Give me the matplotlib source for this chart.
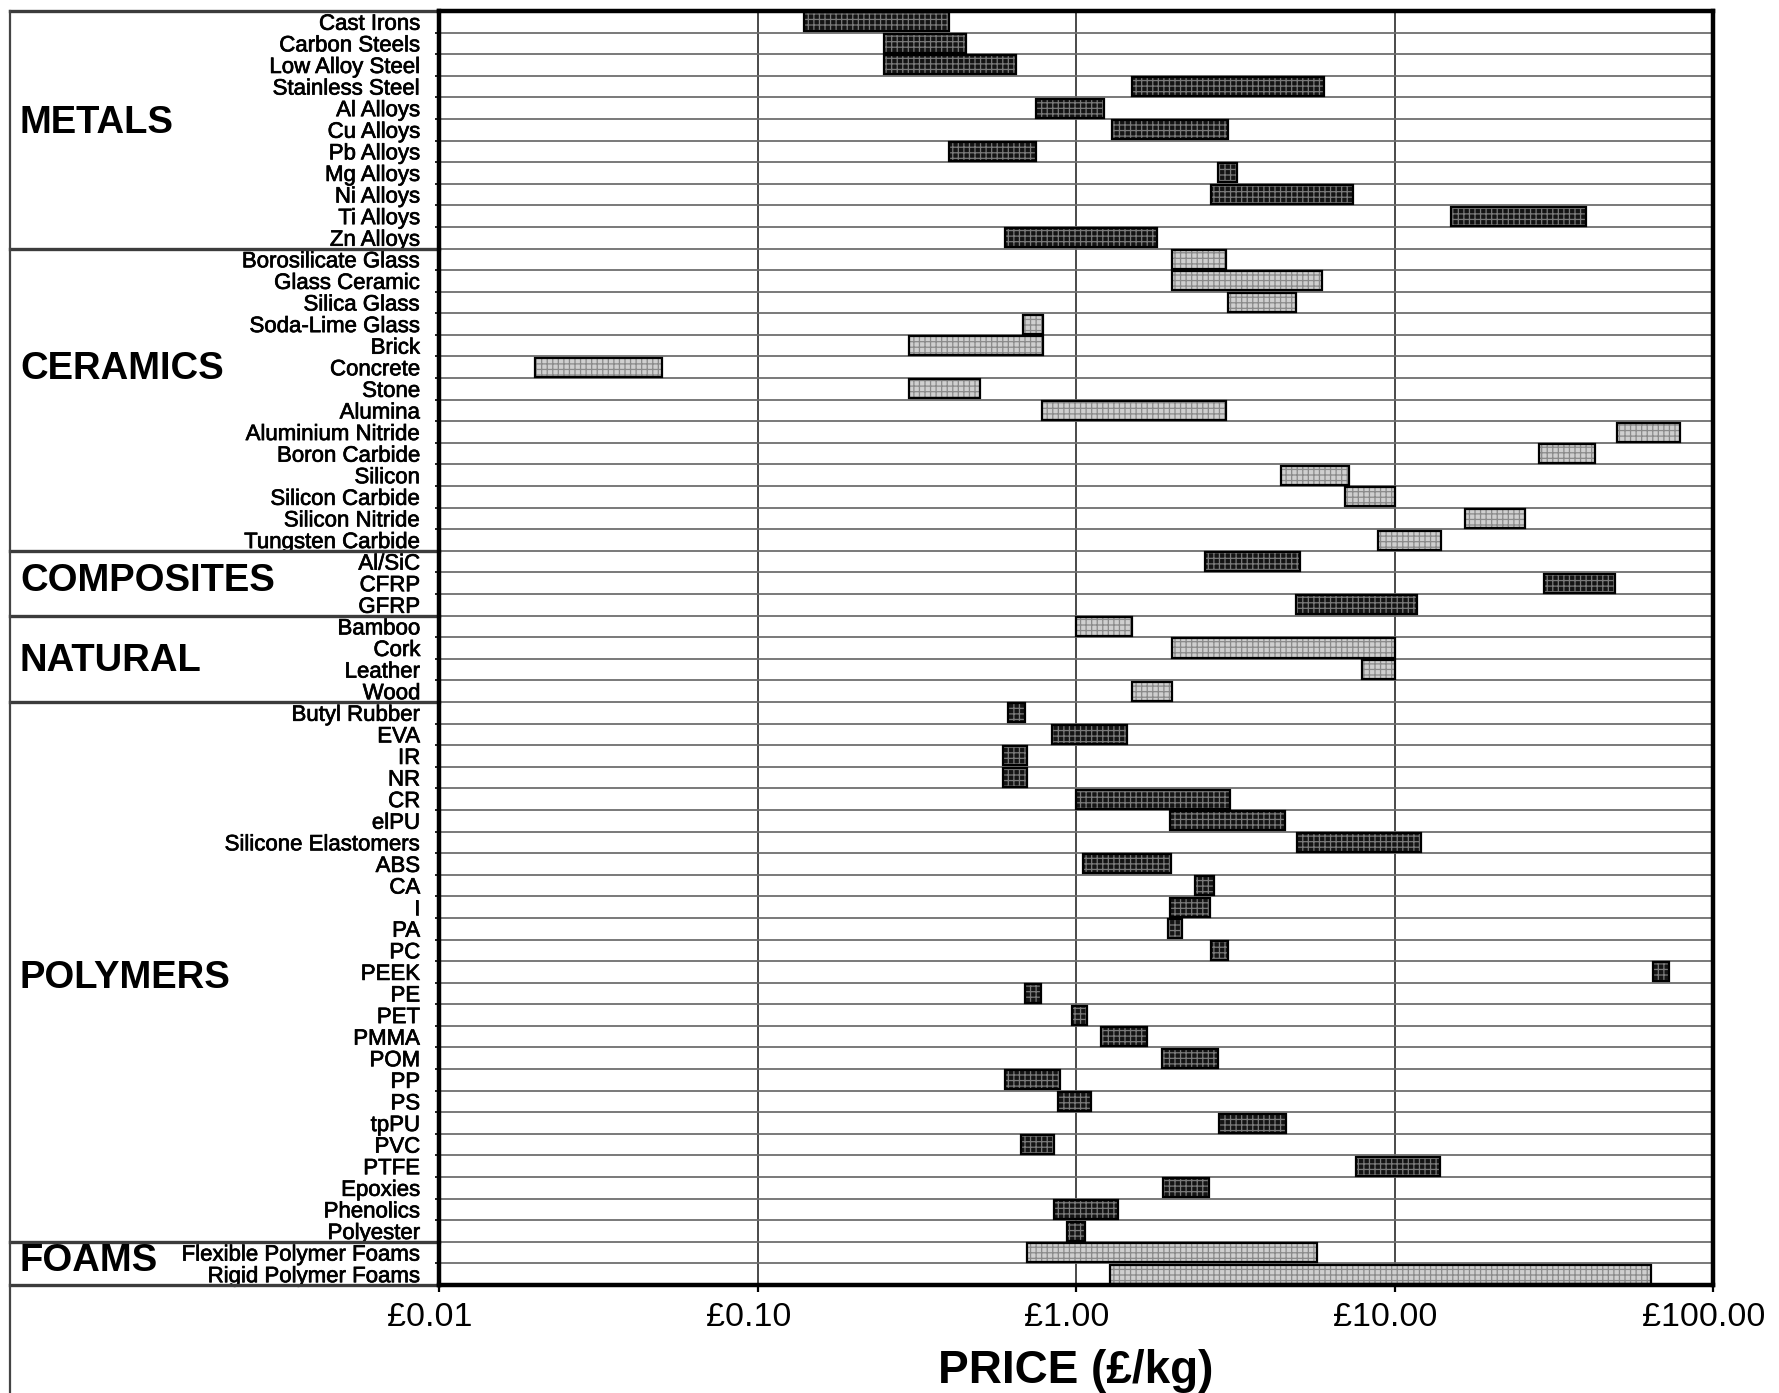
import numpy as np
import matplotlib
matplotlib.use("Agg")
import matplotlib.pyplot as plt
from matplotlib.transforms import blended_transform_factory, ScaledTranslation
from matplotlib.lines import Line2D
from matplotlib.ticker import FixedLocator, NullLocator
import matplotlib.patheffects as pe

plt.rcParams['font.family'] = ['Liberation Sans', 'DejaVu Sans']
plt.rcParams['hatch.linewidth'] = 0.9

# ---------------- data ----------------
groups = ["METALS", "CERAMICS", "COMPOSITES", "NATURAL", "POLYMERS", "FOAMS"]

metals = ["Cast Irons", "Carbon Steels", "Low Alloy Steel", "Stainless Steel", "Al Alloys",
          "Cu Alloys", "Pb Alloys", "Mg Alloys", "Ni Alloys", "Ti Alloys", "Zn Alloys"]
metals_lo = [0.14, 0.25, 0.25, 1.5, 0.75, 1.3, 0.40, 2.8, 2.65, 15.0, 0.60]
metals_hi = [0.40, 0.45, 0.65, 6.0, 1.22, 3.0, 0.75, 3.2, 7.4, 40.0, 1.80]

ceramics = ["Borosilicate Glass", "Glass Ceramic", "Silica Glass", "Soda-Lime Glass", "Brick",
            "Concrete", "Stone", "Alumina", "Aluminium Nitride", "Boron Carbide", "Silicon",
            "Silicon Carbide", "Silicon Nitride", "Tungsten Carbide"]
ceramics_lo = [2.0, 2.0, 3.0, 0.68, 0.30, 0.020, 0.30, 0.78, 50.0, 28.5, 4.4, 7.0, 16.7, 8.9]
ceramics_hi = [2.95, 5.9, 4.9, 0.79, 0.79, 0.050, 0.50, 2.95, 79.0, 42.6, 7.2, 10.0, 25.6, 14.0]

composites = ["Al/SiC", "CFRP", "GFRP"]
composites_lo = [2.55, 29.5, 4.9]
composites_hi = [5.05, 49.4, 11.8]

natural = ["Bamboo", "Cork", "Leather", "Wood"]
natural_lo = [1.0, 2.0, 7.9, 1.5]
natural_hi = [1.5, 10.0, 10.0, 2.0]

polymers = ["Butyl Rubber", "EVA", "IR", "NR", "CR", "elPU", "Silicone Elastomers", "ABS", "CA",
            "I", "PA", "PC", "PEEK", "PE", "PET", "PMMA", "POM", "PP", "PS", "tpPU", "PVC",
            "PTFE", "Epoxies", "Phenolics", "Polyester"]
polymers_lo = [0.61, 0.84, 0.59, 0.59, 1.0, 1.97, 4.94, 1.05, 2.37, 1.98, 1.94, 2.65, 65.0,
               0.69, 0.97, 1.2, 1.86, 0.60, 0.88, 2.81, 0.67, 7.55, 1.88, 0.855, 0.935]
polymers_hi = [0.69, 1.45, 0.70, 0.70, 3.04, 4.52, 12.1, 1.99, 2.71, 2.63, 2.15, 3.0, 73.0,
               0.777, 1.085, 1.665, 2.79, 0.89, 1.114, 4.55, 0.85, 13.9, 2.62, 1.357, 1.067]

foams = ["Flexible Polymer Foams", "Rigid Polymer Foams"]
foams_lo = [0.70, 1.28]
foams_hi = [5.7, 64.0]

xtick_values = [0.01, 0.1, 1.0, 10.0, 100.0]
xtick_labels = ["£0.01", "£0.10", "£1.00", "£10.00", "£100.00"]
x_label = "PRICE (£/kg)"

# ---------------- assemble ----------------
group_items = [metals, ceramics, composites, natural, polymers, foams]
group_lo = [metals_lo, ceramics_lo, composites_lo, natural_lo, polymers_lo, foams_lo]
group_hi = [metals_hi, ceramics_hi, composites_hi, natural_hi, polymers_hi, foams_hi]
group_dark = [True, False, True, False, True, False]

names, lo, hi, dark = [], [], [], []
for items, l, h, d in zip(group_items, group_lo, group_hi, group_dark):
    names += items
    lo += l
    hi += h
    dark += [d] * len(items)
lo = np.array(lo)
hi = np.array(hi)
dark = np.array(dark)
n = len(names)
ypos = np.arange(n)

# group label vertical placement (row units) - layout only
group_label_rows = [4.7, 16.1, 25.9, 29.6, 44.3, 57.4]

# ---------------- figure ----------------
W, H = 1779, 1393
fig = plt.figure(figsize=(W / 100, H / 100), dpi=100)
ax_l, ax_r, ax_t, ax_b = 439, 1713, 11, 1285
ax = fig.add_axes([ax_l / W, 1 - ax_b / H, (ax_r - ax_l) / W, (ax_b - ax_t) / H])
ax.set_xscale('log')
ax.set_xlim(0.01, 100)
ax.set_ylim(n - 0.5, -0.5)
ax.set_axisbelow(True)

bar_h = 0.88
for is_dark, face, hcol in [(True, '#141414', '#7a7a7a'), (False, '#cfcfcf', '#8a8a8a')]:
    m = dark == is_dark
    ax.barh(ypos[m], hi[m] - lo[m], left=lo[m], height=bar_h, color=face,
            edgecolor=hcol, hatch='+++', linewidth=0, zorder=2)
    ax.barh(ypos[m], hi[m] - lo[m], left=lo[m], height=bar_h, fill=False,
            edgecolor='black', linewidth=1.6, zorder=3)

heavy = [pe.withStroke(linewidth=0.5, foreground='black')]

# y axis labels and row lines
ax.yaxis.set_major_locator(FixedLocator(ypos))
ax.set_yticklabels(names, fontsize=16)
for t in ax.get_yticklabels():
    t.set_path_effects(heavy)
ax.yaxis.set_minor_locator(FixedLocator(np.arange(n + 1) - 0.5))
ax.tick_params(axis='y', which='major', length=0, pad=13.5)
ax.tick_params(axis='y', which='minor', length=3, width=1.2, direction='out')
ax.grid(axis='y', which='minor', color='#6e6e6e', linewidth=1.3)

# x axis
ax.xaxis.set_major_locator(FixedLocator(xtick_values))
ax.xaxis.set_minor_locator(NullLocator())
ax.set_xticklabels(xtick_labels, fontsize=24.5)
ax.tick_params(axis='x', which='major', length=5, width=1.6, direction='out', pad=7)
shift = ScaledTranslation(-9 / 100, 0, fig.dpi_scale_trans)
for t in ax.get_xticklabels():
    t.set_transform(t.get_transform() + shift)
ax.grid(axis='x', which='major', color='#3a3a3a', linewidth=1.3)

for s in ax.spines.values():
    s.set_linewidth(3.2)
    s.set_color('black')

fig.text((ax_l + ax_r) / 2 / W, 1 - 1371 / H, x_label, ha='center', va='center',
         fontsize=33, fontweight='bold')

# left label panel: frame line, separators, group labels
frame_x = 10 / W
fig.add_artist(Line2D([frame_x, frame_x], [1 - ax_t / H, 0], color='#444444', linewidth=1.6))

blend = blended_transform_factory(fig.transFigure, ax.transData)
bounds = [-0.5]
c = 0
for items in group_items:
    c += len(items)
    bounds.append(c - 0.5)
for b in bounds:
    ax.plot([frame_x, ax_l / W], [b, b], transform=blend, color='#3c3c3c',
            linewidth=2.4, clip_on=False, zorder=1)

for g, r in zip(groups, group_label_rows):
    ax.text(20 / W, r, g, transform=blend, ha='left', va='center',
            fontsize=27.5, fontweight='bold')

fig.savefig("out.png", dpi=100)
